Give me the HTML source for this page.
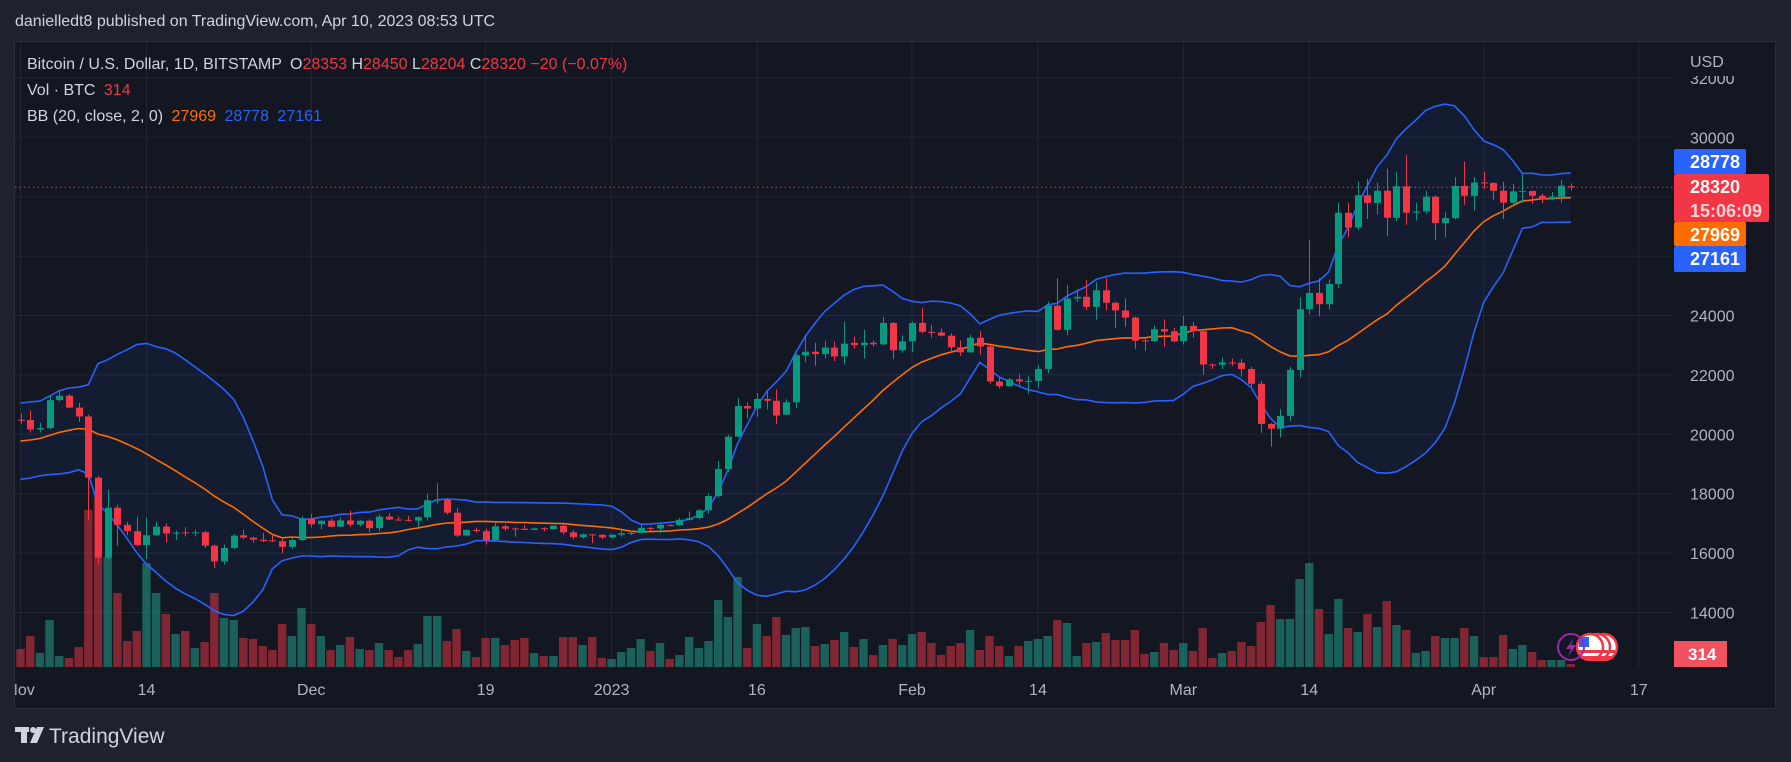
<!DOCTYPE html>
<html><head><meta charset="utf-8"><title>BTCUSD chart</title>
<style>
html,body{margin:0;padding:0;background:#1e222d;width:1791px;height:762px;overflow:hidden}
svg{display:block;font-family:"Liberation Sans",sans-serif}
</style></head>
<body>
<svg id="chart" width="1791" height="762" viewBox="0 0 1791 762" xmlns="http://www.w3.org/2000/svg">
  <defs>
    <clipPath id="plotClip"><rect x="15" y="42" width="1658" height="626"/></clipPath>
    <clipPath id="axisClip"><rect x="15" y="668" width="1658" height="40"/></clipPath>
  </defs>
  <rect x="0" y="0" width="1791" height="762" fill="#1e222d"/>
  <rect x="14.5" y="41.5" width="1761" height="667" fill="#131722" stroke="#2a2e39" stroke-width="1"/>
  <g id="grid"></g>
  <g id="plot" clip-path="url(#plotClip)"></g>
  <g id="yaxis"></g>
  <g id="xaxis" clip-path="url(#axisClip)"></g>

  <text x="15" y="26" font-size="16" fill="#d1d4dc">danielledt8 published on TradingView.com, Apr 10, 2023 08:53 UTC</text>

  <g font-size="16">
    <text x="27" y="69" fill="#d1d4dc">Bitcoin / U.S. Dollar, 1D, BITSTAMP <tspan dx="4">O</tspan><tspan fill="#f23645">28353</tspan> <tspan>H</tspan><tspan fill="#f23645">28450</tspan> <tspan>L</tspan><tspan fill="#f23645">28204</tspan> <tspan>C</tspan><tspan fill="#f23645">28320</tspan> <tspan fill="#f23645">−20 (−0.07%)</tspan></text>
    <text x="27" y="95" fill="#d1d4dc">Vol · BTC <tspan dx="4" fill="#f23645">314</tspan></text>
    <text x="27" y="121" fill="#d1d4dc">BB (20, close, 2, 0) <tspan dx="4" fill="#ff6d00">27969</tspan> <tspan dx="4" fill="#2962ff">28778</tspan> <tspan dx="4" fill="#2962ff">27161</tspan></text>
  </g>

  <g>
    <rect x="15" y="727" width="14" height="5" fill="#d1d4dc"/>
    <rect x="21" y="727" width="6" height="16" fill="#d1d4dc"/>
    <circle cx="33" cy="730" r="3" fill="#d1d4dc"/>
    <polygon points="37,727 44,727 37,743 30,743" fill="#d1d4dc"/>
    <text x="49" y="743" font-size="21" fill="#d1d4dc">TradingView</text>
  </g>
</svg>
<script>
// ---------- data (daily, Nov 1 2022 .. Apr 10 2023) ----------
const priorCloses = [19380,19180,19070,19270,19550,19330,19130,19040,19170,19210,19570,19330,20090,20770,20290,20600,20810,20630,20490];
const opens = [
20490,20480,20160,20210,21150,21300,20900,20600,18540,15850,17530,16950,16740,16270,16600,16890,16660,16700,16680,16700,16250,15720,16170,16600,16520,16450,16430,16400,16210,16440,
17160,16970,17090,16890,17100,16960,17090,16840,17230,17130,17120,17090,17210,17780,17800,17360,16590,16780,16740,16440,16900,16830,16820,16780,16840,16810,16920,16700,16540,16630,16610,
16530,16620,16670,16680,16850,16830,16950,16940,17120,17180,17440,17920,18830,19920,20950,20870,21190,21130,20660,21080,22660,22780,22700,22920,22620,23080,23000,23080,23030,23750,22830,
23130,23750,23450,23430,23320,22930,22760,23250,22960,21780,21620,21850,21780,21800,22200,24330,23520,24570,24630,24290,24850,24430,24170,23930,23160,23140,23540,23470,
23130,23650,23470,22350,22340,22420,22410,22200,21700,20350,20190,20620,22170,24210,24760,24380,25060,27460,26960,28050,27790,28200,27290,28350,27460,27500,28000,27110,27280,28360,28030,
28480,28460,28200,27800,28170,28190,28030,27920,28000,28353];
const highs = [
20700,20800,20390,21300,21460,21350,21060,20660,18600,18130,17630,17050,17230,17190,17060,17000,16760,16870,16800,16750,16290,16290,16640,16780,16550,16680,16590,16480,16510,17240,
17320,17100,17160,17200,17430,17110,17130,17300,17350,17230,17250,17240,17990,18350,17850,17530,16800,16850,16830,17050,16960,16870,16940,16860,16870,16940,16950,16780,16660,16640,16640,
16630,16770,16760,16990,16880,17000,16970,17180,17400,17490,18000,19100,19980,21220,21080,21390,21470,21510,21180,22720,23350,23080,23160,23120,23800,23290,23520,23160,23950,23780,23330,
23800,24250,23690,23560,23400,23160,23350,23470,23010,21910,21900,22040,21960,22320,24470,25260,25030,24870,25200,25120,25260,24460,24570,23960,23230,23660,23870,23590,
23980,23780,23480,22390,22580,22550,22540,22270,21800,20370,20850,22270,24620,26540,25260,25210,27790,27790,28500,28600,28480,28940,28820,29400,27790,28200,28040,27480,28660,29180,28660,
28830,28500,28500,28440,28760,28200,28100,28160,28560,28450];
const lows = [
20360,20060,20060,20180,21100,20880,20420,17110,15600,15770,16250,16600,16230,15800,16580,16350,16450,16560,16560,16170,15500,15610,16130,16460,16350,16370,16380,16000,16150,16420,
16870,16800,16870,16880,16880,16900,16700,16740,17100,17090,17070,16870,17100,17670,17300,16540,16580,16690,16290,16400,16750,16550,16780,16780,16730,16790,16620,16460,16490,16330,16480,
16490,16550,16600,16660,16760,16680,16900,16910,17100,17150,17320,17880,18720,19890,20530,20590,20830,20340,20640,20880,22430,22310,22550,22470,22350,22880,22550,22960,23000,22530,22740,
22760,23390,23250,23290,22760,22640,22740,22690,21700,21540,21600,21640,21360,21580,22050,23490,23340,24450,24180,23860,24170,23580,23620,22880,22810,23100,22950,23100,
23020,23250,22000,22200,22200,22300,21940,21600,20050,19580,19890,20450,21900,24050,23970,24200,24930,26640,26870,27250,27400,26670,27180,27050,27200,27420,26540,26630,27240,27730,27540,
28260,27880,27250,27680,27790,27760,27780,27880,27800,28204];
const closes = [
20480,20160,20210,21150,21300,20900,20600,18540,15850,17530,16950,16740,16270,16600,16890,16660,16690,16680,16700,16250,15720,16170,16590,16520,16450,16410,16400,16210,16440,17160,
16970,17090,16890,17100,16960,17090,16840,17230,17130,17120,17090,17210,17780,17800,17360,16590,16780,16740,16440,16900,16820,16820,16780,16830,16810,16920,16700,16540,16630,16600,16530,
16620,16670,16680,16850,16830,16950,16940,17120,17180,17440,17920,18830,19920,20950,20870,21190,21130,20630,21080,22660,22780,22700,22920,22620,23050,23000,23080,23030,23750,22830,23130,
23750,23450,23430,23320,22930,22760,23250,22960,21780,21620,21850,21780,21800,22200,24330,23520,24570,24630,24290,24850,24430,24170,23930,23150,23140,23540,23460,23130,
23650,23470,22350,22340,22420,22410,22200,21700,20350,20190,20620,22170,24210,24760,24380,25060,27460,26960,28050,27790,28200,27290,28350,27460,27500,28000,27110,27280,28360,28030,28480,
28460,28200,27800,28180,28190,28030,27920,28000,28370,28320];
const volumes = [
18,31,14,47,11,9,20,157,175,110,74,26,36,104,74,53,33,36,19,25,74,49,47,29,28,21,17,43,31,59,
43,31,17,22,30,18,17,24,17,10,17,23,51,51,26,38,16,10,29,29,22,27,29,14,11,11,30,30,22,30,9,
8,15,19,28,16,24,8,12,30,19,26,67,50,90,19,43,31,50,32,39,40,21,23,27,35,20,28,12,22,28,22,
33,35,24,12,21,24,37,17,31,21,11,21,26,28,31,47,44,11,24,25,34,27,27,37,13,15,24,17,
24,16,39,9,14,16,25,21,45,62,48,48,88,104,58,33,68,39,35,53,40,66,42,37,14,16,31,29,29,39,31,
10,10,32,18,22,15,7,7,7,3];
const priceTicks = [14000,16000,18000,20000,22000,24000,26000,28000,30000,32000];
const timeLabels = ["Nov","14","Dec","19","2023","16","Feb","14","Mar","14","Apr","17"];
const timeLabelDays = [0,13,30,48,61,76,92,105,120,133,151,167];
const bbTagValues = [28778,27969,27161];
const bbLength = 20, bbMult = 2;

// ---------- axes ----------
const NS = "http://www.w3.org/2000/svg";
const X0 = 20.5, DX = 9.69;
function xOf(d){ return X0 + d*DX; }
function yOf(p){ return 137.3 + (30000 - p)*0.0297; }
const VOL_BASE = 667, VOL_SCALE = 1;
function yVol(v){ return VOL_BASE - v*VOL_SCALE; }
function mk(tag, attrs, parent){
  const e = document.createElementNS(NS, tag);
  for (const k in attrs) e.setAttribute(k, attrs[k]);
  parent.appendChild(e); return e;
}
const grid = document.getElementById('grid');
const plot = document.getElementById('plot');
const yaxis = document.getElementById('yaxis');
const xaxis = document.getElementById('xaxis');

priceTicks.forEach(p=>{
  const l = mk('line',{x1:15,x2:1673,y1:yOf(p),y2:yOf(p),stroke:'#232733','stroke-width':1},grid);
  
  
});
timeLabelDays.forEach(d=>{
  const l = mk('line',{x1:xOf(d),x2:xOf(d),y1:42,y2:668,stroke:'#232733','stroke-width':1},grid);
  
  
});

const allC = priorCloses.concat(closes);
const up=[], mid=[], lo=[];
for (let i=0;i<closes.length;i++){
  const j = i + priorCloses.length;
  const win = allC.slice(Math.max(0,j-bbLength+1), j+1);
  const m = win.reduce((a,b)=>a+b,0)/win.length;
  const sd = Math.sqrt(win.reduce((a,b)=>a+(b-m)*(b-m),0)/win.length);
  mid.push(m); up.push(m+bbMult*sd); lo.push(m-bbMult*sd);
}
const ptsU = up.map((v,i)=>xOf(i).toFixed(1)+','+yOf(v).toFixed(1));
const ptsL = lo.map((v,i)=>xOf(i).toFixed(1)+','+yOf(v).toFixed(1));
const ptsM = mid.map((v,i)=>xOf(i).toFixed(1)+','+yOf(v).toFixed(1));
const fill = mk('polygon',{points:ptsU.concat(ptsL.slice().reverse()).join(' '),fill:'rgba(41,98,255,0.07)'},plot);



const volG = mk('g',{},plot);


volumes.forEach((v,i)=>{
  const upDay = closes[i] >= opens[i];
  const r = mk('rect',{x:xOf(i)-4.2,y:yVol(v),width:8.4,height:VOL_BASE-yVol(v),fill:upDay?'rgba(34,171,148,0.5)':'rgba(242,54,69,0.5)'},volG);
  
  
});

const lu = mk('polyline',{points:ptsU.join(' '),fill:'none',stroke:'#2962ff','stroke-width':1.6},plot);


const ll = mk('polyline',{points:ptsL.join(' '),fill:'none',stroke:'#2962ff','stroke-width':1.6},plot);


const lm = mk('polyline',{points:ptsM.join(' '),fill:'none',stroke:'#ff6d00','stroke-width':1.6},plot);



const cG = mk('g',{},plot);


closes.forEach((c,i)=>{
  const o = opens[i], upDay = c >= o, col = upDay ? '#089981' : '#f23645';
  const cx = Math.round(xOf(i)) + 0.5;
  const w = mk('line',{x1:cx,x2:cx,y1:yOf(highs[i]),y2:yOf(lows[i]),stroke:col,'stroke-width':1},cG);
  
  
  const top = yOf(Math.max(o,c)), bot = yOf(Math.min(o,c));
  const b = mk('rect',{x:cx-3.5,y:top,width:7,height:Math.max(1,bot-top),fill:col},cG);
  
  
});

const lastC = closes[closes.length-1];
const pl = mk('line',{x1:15,x2:1673,y1:yOf(lastC),y2:yOf(lastC),stroke:'#f23645','stroke-width':1,'stroke-dasharray':'1.5,3'},plot);



const ev = mk('g',{},plot);


[1604,1597,1590].forEach(cx=>{
  const c = mk('circle',{cx:cx,cy:647,r:13,fill:'#fff',stroke:'#f23645','stroke-width':2.5},ev);
  
  
  const s = mk('rect',{x:cx-11,y:650,width:22,height:3,fill:'#f23645'},ev);
  
  
  const s2 = mk('rect',{x:cx-9,y:656,width:18,height:3,fill:'#f23645'},ev);
  
  
  const q = mk('rect',{x:cx-11,y:637,width:10,height:10,fill:'#2962ff'},ev);
  
  
});
const pc = mk('circle',{cx:1571,cy:647,r:13,fill:'none',stroke:'#9c27b0','stroke-width':2},ev);


const bolt = mk('polygon',{points:'1574,638 1566,649 1571,649 1568,657 1576,645 1571,645',fill:'#9c27b0'},ev);



priceTicks.forEach(p=>{
  const t = mk('text',{x:1690,y:yOf(p)+6,'font-size':16,fill:'#b2b5be'},yaxis);
  
  
  t.textContent = String(p);
});
const mask = mk('rect',{x:1674,y:42,width:100,height:34,fill:'#131722'},yaxis);


const usd = mk('text',{x:1690,y:67,'font-size':16,fill:'#b2b5be'},yaxis);


usd.textContent = 'USD';

function tag(name, y, h, w, color, lines){
  const g = mk('g',{},yaxis);
  
  
  mk('rect',{x:1674,y:y,width:w,height:h,rx:2,fill:color},g);
  lines.forEach((ln,k)=>{
    const t = mk('text',{x:1690,y:y+19+k*24,'font-size':18,'font-weight':'bold',fill:ln[1]},g);
    t.textContent = ln[0];
  });
}
tag('bb-upper-tag',149,25,72,'#2962ff',[[String(bbTagValues[0]),'#fff']]);
tag('last-price-tag',174,48,95,'#f23645',[[String(lastC),'#fff'],['15:06:09','#fcd2d5']]);
tag('bb-basis-tag',222,24,72,'#ff6d00',[[String(bbTagValues[1]),'#fff']]);
tag('bb-lower-tag',246,26,72,'#2962ff',[[String(bbTagValues[2]),'#fff']]);
const vt = mk('g',{},yaxis);


mk('rect',{x:1674,y:641,width:53,height:26,fill:'#f0525f'},vt);
const vtt = mk('text',{x:1688,y:660,'font-size':17,'font-weight':'bold',fill:'#fff'},vt);
vtt.textContent = '314';

timeLabels.forEach((lab,i)=>{
  const t = mk('text',{x:xOf(timeLabelDays[i]),y:695,'font-size':16,fill:'#b2b5be','text-anchor':'middle'},xaxis);
  
  
  t.textContent = lab;
});
</script>
</body></html>
